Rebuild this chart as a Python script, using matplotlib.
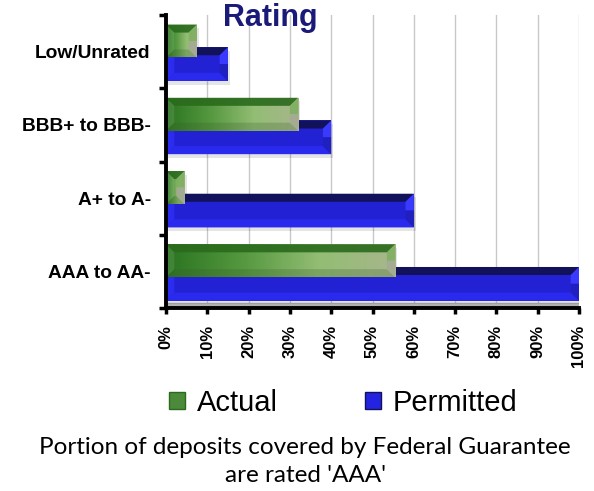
import numpy as np
import matplotlib
matplotlib.use("Agg")
import matplotlib.pyplot as plt
from matplotlib.patches import Polygon, Rectangle, Patch
from matplotlib.colors import LinearSegmentedColormap

# ---- data ----
categories = ["AAA to AA-", "A+ to A-", "BBB+ to BBB-", "Low/Unrated"]
actual = [55.5, 4.5, 32, 7.5]
permitted = [100, 60, 40, 15]
xticks = list(range(0, 101, 10))
xtick_labels = [f"{v}%" for v in xticks]
title = "Rating"
series_names = ["Actual", "Permitted"]
caption_lines = ["Portion of deposits covered by Federal Guarantee",
                 "are rated 'AAA'"]

fig = plt.figure(figsize=(5.94, 4.91), dpi=100)
ax = fig.add_axes([166/594, 1-308/491, (579-166)/594, (308-15)/491])
ax.set_xlim(0, 100)
ax.set_ylim(0, len(categories))

green_cmap = LinearSegmentedColormap.from_list(
    "g", ["#2a7420", "#55983f", "#93bd74", "#a8b68c"])

BX = 2.0    # bevel in x units
BY = 0.11   # bevel in y units


def bevel_bar(x1, y0, h, kind):
    x0 = 0
    y1 = y0 + h
    bx = min(BX, (x1 - x0) / 2)
    by = min(BY, h / 2)
    if kind == "g":
        grad = np.linspace(0, 1, 256).reshape(1, -1)
        im = ax.imshow(grad, cmap=green_cmap, extent=[x0, x1, y0, y1],
                       aspect="auto", zorder=4, origin="lower")
        clip = Rectangle((x0, y0), x1 - x0, h, transform=ax.transData)
        im.set_clip_path(clip)
        top_c, bot_c, left_c, right_top, right_bot = (
            ("#2a6a1c", 0.9), ("#3a5a30", 0.25), ("#ffffff", 0.10),
            ("#7fb060", 0.9), ("#a4aa94", 0.9))
        z = 5
    else:
        ax.add_patch(Rectangle((x0, y0), x1 - x0, h, facecolor="#2222d4",
                               edgecolor="none", zorder=2))
        top_c, bot_c, left_c, right_top, right_bot = (
            ("#12125a", 1.0), ("#2a2aee", 1.0), ("#2c2cf0", 1.0),
            ("#3a3aff", 1.0), ("#2020c0", 1.0))
        z = 3
    polys = [
        ([(x0, y1), (x1, y1), (x1 - bx, y1 - by), (x0 + bx, y1 - by)], top_c),
        ([(x0, y0), (x1, y0), (x1 - bx, y0 + by), (x0 + bx, y0 + by)], bot_c),
        ([(x0, y0), (x0, y1), (x0 + bx, y1 - by), (x0 + bx, y0 + by)], left_c),
        ([(x1, y1), (x1 - bx, y1 - by), (x1 - bx, (y0 + y1) / 2), (x1, (y0 + y1) / 2)], right_top),
        ([(x1, y0), (x1 - bx, y0 + by), (x1 - bx, (y0 + y1) / 2), (x1, (y0 + y1) / 2)], right_bot),
    ]
    for pts, (c, a) in polys:
        ax.add_patch(Polygon(pts, closed=True, facecolor=c, alpha=a,
                             edgecolor="none", zorder=z))
    # soft shadow
    ax.add_patch(Rectangle((x0 + 0.5, y0 - 0.05), x1 - x0, h, facecolor="#000000",
                           alpha=0.10, edgecolor="none", zorder=1.5))


for i, (a, p) in enumerate(zip(actual, permitted)):
    bevel_bar(p, i + 0.10, 0.46, "b")
    bevel_bar(a, i + 0.42, 0.45, "g")

# floor strip
ax.axhspan(0, 0.07, color="#b0b0b0", zorder=1)

# grid
for v in xticks[1:]:
    ax.axvline(v, color="#c8c8c8", lw=1, zorder=0.5)

# axes styling
for s in ["top", "right"]:
    ax.spines[s].set_visible(False)
ax.spines["left"].set_linewidth(2.8)
ax.spines["bottom"].set_linewidth(2.8)
ax.spines["left"].set_zorder(6)
ax.spines["bottom"].set_zorder(6)

ax.set_xticks(xticks)
ax.set_xticklabels(xtick_labels, rotation=90, fontsize=12, fontweight="bold",
                   family="Liberation Sans")
ax.tick_params(axis="x", length=4, width=2.5, pad=8)

ax.set_yticks(range(len(categories) + 1))
ax.set_yticklabels([""] * (len(categories) + 1))
ax.tick_params(axis="y", which="major", length=5, width=2.5)
ax.set_yticks([i + 0.5 for i in range(len(categories))], minor=True)
ax.set_yticklabels(categories, minor=True, fontsize=13.8, fontweight="bold",
                   family="Liberation Sans")
ax.tick_params(axis="y", which="minor", length=0, pad=11)

fig.text(270/594, 1-18/491, title, fontsize=22, fontweight="bold",
         color="#1a1a78", ha="center", va="center", family="Liberation Sans")

handles = [Patch(facecolor="#4a8a3a", edgecolor="#2a6a1c"),
           Patch(facecolor="#2424e0", edgecolor="#12125a")]
fig.legend(handles, series_names, loc="center", bbox_to_anchor=(0.578, 1-403/491),
           ncol=2, frameon=False, prop={"family": "Liberation Sans", "size": 21},
           handlelength=0.55, handleheight=0.55, handletextpad=0.4,
           columnspacing=3.0)

for k, line in enumerate(caption_lines):
    fig.text(305/594, 1-(447 + 28*k)/491, line, fontsize=17.5, ha="center",
             va="center", family="Lato")

fig.savefig("out.png", dpi=100)
